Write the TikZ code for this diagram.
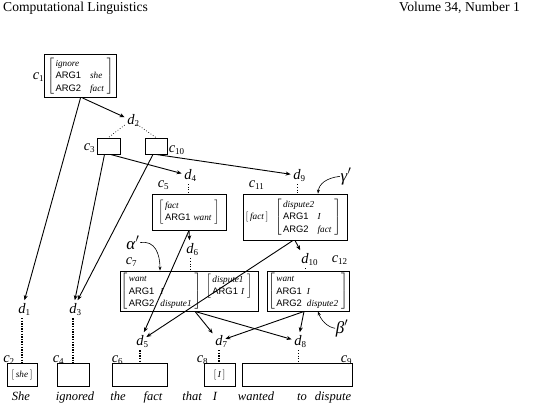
\documentclass[tikz,border=0pt]{standalone}
\usepackage{fontspec}
\setmainfont{Liberation Serif}
\setsansfont{Liberation Sans}
\usetikzlibrary{arrows.meta}

% feature values and feature names
\newcommand\fval[1]{{\fontsize{9.2}{12.5}\selectfont\itshape #1}}
\newcommand\fname[1]{{\fontsize{9.4}{12.5}\selectfont\sffamily #1}}
% attribute-value matrices
\newcommand\fsA[4][9pt]{$\left[\begin{tabular}{@{\hspace{1.5pt}}l@{\hspace{#1}}l@{\hspace{3pt}}}\multicolumn{2}{@{\hspace{1.5pt}}l@{\hspace{3pt}}}{\fval{#2}}\\ \fname{ARG1} & \fval{#3}\\ \fname{ARG2} & \fval{#4}\end{tabular}\right]$}
\newcommand\fsB[2]{$\left[\begin{tabular}{@{\hspace{1.5pt}}l@{\hspace{3pt}}l@{\hspace{3pt}}}\multicolumn{2}{@{\hspace{1.5pt}}l@{\hspace{3pt}}}{\fval{#1}}\\ \fname{ARG1} & \fval{#2}\end{tabular}\right]$}
\newcommand\fsC[1]{$\left[\,\vphantom{Ig}\mbox{\fval{#1}}\,\right]$}
% italic letter with an upright subscript that takes no width
\newcommand\lbl[2]{\textit{#1}\rlap{\raisebox{-0.35ex}{\fontsize{9}{9}\selectfont #2}}}
\newcommand\gp[1]{\textit{#1}$'$}

\tikzset{
  box/.style={draw, line width=0.9pt, inner sep=0pt},
  fs/.style={inner sep=0pt, font=\fontsize{10}{12.5}\selectfont},
  lab/.style={inner sep=0pt, font=\fontsize{14.5}{14}\selectfont, anchor=base},
  dl/.style={inner sep=2.5pt, font=\fontsize{14.5}{14}\selectfont, anchor=base},
  greek/.style={inner sep=0.5pt, font=\fontsize{17}{17}\selectfont, anchor=base},
  word/.style={inner sep=0pt, font=\fontsize{12.5}{12.5}\selectfont\itshape, anchor=base},
  head/.style={inner sep=0pt, font=\fontsize{13.6}{15}\selectfont},
  arr/.style={line width=0.9pt, -{Stealth[length=5pt,width=4pt]}},
  note/.style={line width=0.6pt, -{Stealth[length=4pt,width=3pt]}},
  dots/.style={line width=0.7pt, dotted},
  thickdots/.style={line width=1.8pt, dash pattern=on 1.4pt off 1.2pt}
}

\begin{document}
\begin{tikzpicture}[x=1pt,y=-1pt]
\useasboundingbox (0,0) rectangle (536,405);

% running head
\node[head, anchor=base west] (hl) at (3,11) {Computational Linguistics};
\node[head, anchor=base east] (hr) at (520,11) {Volume 34, Number 1};

% upper chart cells
\node[box, minimum width=72pt, minimum height=43pt] (c1) at (80.5,76) {};
\node[fs] (f1) at (c1.center) {\fsA{ignore}{she}{fact}};
\node[box, minimum width=23pt, minimum height=16pt] (c3) at (108.5,146) {};
\node[box, minimum width=22pt, minimum height=16pt] (c10) at (156,146) {};
\node[box, minimum width=74pt, minimum height=36pt] (c5) at (189,212) {};
\node[fs] (f5) at (c5.center) {\fsB{fact}{want}};
\node[box, minimum width=104pt, minimum height=46pt] (c11) at (295,217) {};
\node[fs] (f11a) at (257,217) {\fsC{fact}};
\node[fs] (f11b) at (308,217) {\fsA{dispute2}{I}{fact}};
\node[box, minimum width=138pt, minimum height=40pt] (c7) at (189,291) {};
\node[fs] (f7a) at (161,291.5) {\fsA[6pt]{want}{I}{dispute1}};
\node[fs, anchor=north] (f7b) at (229,273.5) {\fsB{dispute1}{I}};
\node[box, minimum width=82pt, minimum height=40pt] (c12) at (308,291) {};
\node[fs] (f12) at ([yshift=-0.5pt]c12.center) {\fsA[5pt]{want}{I}{dispute2}};

% word cells
\node[box, minimum width=30pt, minimum height=23pt] (c2) at (22,374.5) {};
\node[fs] (f2) at (c2.center) {\fsC{she}};
\node[box, minimum width=32pt, minimum height=23pt] (c4) at (73,374.5) {};
\node[box, minimum width=55pt, minimum height=23pt] (c6) at (139.5,374.5) {};
\node[box, minimum width=31pt, minimum height=23pt] (c8) at (219.5,374.5) {};
\node[fs] (f8) at (c8.center) {\fsC{I}};
\node[box, minimum width=110pt, minimum height=23pt] (c9) at (297,374.5) {};

% cell labels
\node[lab] (l1) at (36,79) {\lbl{c}{1}};
\node[lab] (l3) at (87,150) {\lbl{c}{3}};
\node[lab] (l10) at (172,152) {\lbl{c}{10}};
\node[lab] (l5) at (161,187) {\lbl{c}{5}};
\node[lab] (l11) at (252,187) {\lbl{c}{11}};
\node[lab] (l7) at (129,264.5) {\lbl{c}{7}};
\node[lab] (l12) at (335,262.5) {\lbl{c}{12}};
\node[lab] (l2) at (6.5,362) {\lbl{c}{2}};
\node[lab] (l4) at (56,362) {\lbl{c}{4}};
\node[lab] (l6) at (115,362) {\lbl{c}{6}};
\node[lab] (l8) at (200,362) {\lbl{c}{8}};
\node[lab] (l9) at (344,362) {\lbl{c}{9}};

% dependency nodes
\node[dl] (d2) at (131,124) {\lbl{d}{2}};
\node[dl] (d4) at (188,179) {\lbl{d}{4}};
\node[dl] (d9) at (297,179) {\lbl{d}{9}};
\node[dl] (d6) at (190,253) {\lbl{d}{6}};
\node[dl] (d10) at (305,263) {\lbl{d}{10}};
\node[dl] (d1) at (22,313) {\lbl{d}{1}};
\node[dl] (d3) at (73,313) {\lbl{d}{3}};
\node[dl] (d5) at (140,345) {\lbl{d}{5}};
\node[dl] (d7) at (219,345) {\lbl{d}{7}};
\node[dl] (d8) at (298,345) {\lbl{d}{8}};

% sentence
\node[word] (w1) at (21,400) {She};
\node[word] (w2) at (75,400) {ignored};
\node[word] (w3) at (118,400) {the};
\node[word] (w4) at (153,400) {fact};
\node[word] (w5) at (192,400) {that};
\node[word] (w6) at (215,400) {I};
\node[word] (w7) at (256,400) {wanted};
\node[word] (w8) at (302,400) {to};
\node[word] (w9) at (333,400) {dispute};

% annotations
\node[greek] (alpha) at (133,249) {\gp{α}};
\node[greek] (gamma) at (346,181) {\gp{γ}};
\node[greek] (beta) at (342,333) {\gp{β}};
\draw[note] (alpha.east) .. controls (155,240) and (160,254) .. ([xshift=-29pt]c7.north);
\draw[note] (gamma.west) .. controls (326,178) and (319,184) .. ([xshift=23pt]c11.north);
\draw[note] (beta.west) .. controls (327,327) and (321,320) .. ([xshift=10pt]c12.south);

% arcs from cells to dependency nodes
\draw[arr] ([xshift=2pt]c1.south) -- (d2);
\draw[arr] (c1.south) -- (d1);
\draw[arr] ([xshift=2pt]c3.south) -- (d4);
\draw[arr] (c10.south) -- (d9);
\draw[arr] ([xshift=-4pt]c3.south) -- (d3);
\draw[arr] ([xshift=-3pt]c10.south) -- (d3);
\draw[arr] (c5.south) -- (d6);
\draw[arr] (c5.south) -- (d5);
\draw[arr] (c11.south) -- (d10);
\draw[arr] ([xshift=-2pt]c11.south) -- (d5);
\draw[arr] ([xshift=6pt]c7.south) -- (d7);
\draw[arr] ([xshift=6pt]c7.south) -- (d8);
\draw[arr] ([xshift=-4pt]c12.south) -- (d7);
\draw[arr] ([xshift=-4pt]c12.south) -- (d8);

% links from dependency nodes to their cells
\draw[dots] (d2) -- (c3.north);
\draw[dots] (d2) -- (c10.north);
\draw[dots] (d4.south) -- (d4.south |- c5.north);
\draw[dots] (d9.south) -- (d9.south |- c11.north);
\draw[dots] (d6.south) -- (d6.south |- c7.north);
\draw[dots] (d10.south) -- (d10.south |- c12.north);
\draw[dots] (d8.south) -- (d8.south |- c9.north);
\draw[thickdots] (d1.south) -- (d1.south |- c2.north);
\draw[thickdots] (d3.south) -- (d3.south |- c4.north);
\draw[thickdots] (d5.south) -- (d5.south |- c6.north);
\draw[thickdots] (d7.south) -- (d7.south |- c8.north);
\end{tikzpicture}
\end{document}
